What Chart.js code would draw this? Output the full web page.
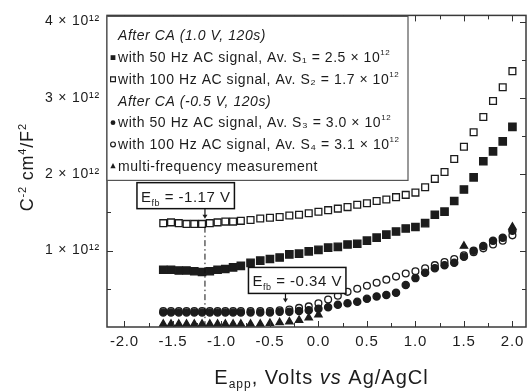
<!DOCTYPE html>
<html>
<head>
<meta charset="utf-8">
<script src="https://cdn.jsdelivr.net/npm/chart.js@4.4.0/dist/chart.umd.min.js"></script>
<style>
  html, body { margin: 0; padding: 0; background: #fff; }
</style>
</head>
<body>
<canvas id="chart" width="529" height="391"></canvas>
<script>
// applied potential, V vs Ag/AgCl
const potential = [-1.60, -1.52, -1.44, -1.36, -1.28, -1.20, -1.12, -1.04, -0.96, -0.88, -0.80,
  -0.70, -0.60, -0.50, -0.40, -0.30, -0.20, -0.10, 0.00, 0.10, 0.20, 0.30, 0.40, 0.50,
  0.60, 0.70, 0.80, 0.90, 1.00, 1.10, 1.20, 1.30, 1.40, 1.50, 1.60, 1.70, 1.80, 1.90, 2.00];

// C^-2 in units of 1e12 cm^4/F^2
// after CA at 1.0 V
const ca1_50Hz = [0.75, 0.75, 0.74, 0.74, 0.73, 0.72, 0.73, 0.75, 0.76, 0.78, 0.80,
  0.84, 0.87, 0.89, 0.91, 0.95, 0.96, 0.99, 1.01, 1.04, 1.05, 1.08, 1.09, 1.13,
  1.17, 1.21, 1.25, 1.29, 1.31, 1.36, 1.47, 1.51, 1.65, 1.80, 1.96, 2.17, 2.30, 2.43, 2.62];
const ca1_100Hz = [1.36, 1.37, 1.36, 1.35, 1.35, 1.35, 1.36, 1.37, 1.38, 1.38, 1.39,
  1.40, 1.42, 1.43, 1.44, 1.46, 1.47, 1.49, 1.51, 1.53, 1.55, 1.57, 1.60, 1.62,
  1.65, 1.67, 1.70, 1.73, 1.76, 1.83, 1.94, 2.03, 2.20, 2.36, 2.55, 2.75, 2.96, 3.14, 3.35];
// after CA at -0.5 V
const ca2_50Hz = [0.19, 0.19, 0.19, 0.19, 0.19, 0.19, 0.19, 0.19, 0.19, 0.19, 0.19,
  0.19, 0.19, 0.19, 0.20, 0.20, 0.21, 0.22, 0.24, 0.26, 0.29, 0.31, 0.33, 0.37,
  0.40, 0.42, 0.45, 0.55, 0.64, 0.71, 0.77, 0.81, 0.84, 0.92, 1.00, 1.06, 1.13, 1.17, 1.26];
const ca2_100Hz = [0.21, 0.21, 0.21, 0.21, 0.21, 0.21, 0.21, 0.21, 0.21, 0.21, 0.21,
  0.21, 0.21, 0.21, 0.22, 0.23, 0.25, 0.27, 0.31, 0.36, 0.41, 0.46, 0.50, 0.54,
  0.58, 0.62, 0.66, 0.70, 0.73, 0.77, 0.81, 0.85, 0.89, 0.94, 0.98, 1.03, 1.08, 1.13, 1.20];
const multiFreq = [0.04, 0.04, 0.04, 0.04, 0.04, 0.04, 0.04, 0.04, 0.04, 0.04, 0.04,
  0.04, 0.04, 0.05, 0.06, 0.07, 0.09, 0.12, 0.16, null, null, null, null, null,
  null, null, null, null, null, null, null, null, null, 1.06, null, null, null, null, 1.31];

const xTickValues = [-2.0, -1.5, -1.0, -0.5, 0.0, 0.5, 1.0, 1.5, 2.0];
const yTickValues = [1, 2, 3, 4];
const flatband = [-1.17, -0.34];

const legendRows = [
  { header: 'After CA (1.0 V, 120s)' },
  { marker: 'filledSquare', text: 'with 50 Hz AC signal, Av. S\u2081 = 2.5 \u00d7 10', sup: '12' },
  { marker: 'openSquare', text: 'with 100 Hz AC signal, Av. S\u2082 = 1.7 \u00d7 10', sup: '12' },
  { header: 'After CA (-0.5 V, 120s)' },
  { marker: 'filledCircle', text: 'with 50 Hz AC signal, Av. S\u2083 = 3.0 \u00d7 10', sup: '12' },
  { marker: 'openCircle', text: 'with 100 Hz AC signal, Av. S\u2084 = 3.1 \u00d7 10', sup: '12' },
  { marker: 'triangle', text: 'multi-frequency measurement' }
];

const FONT = "'Liberation Sans', Arial, sans-serif";
const INK = '#1c1c1c';

function points(ys) {
  return potential.map((x, i) => ({ x: x, y: ys[i] })).filter(p => p.y !== null);
}

// draws runs of text with different sizes / offsets, returns width
function richText(ctx, parts, x, y, measureOnly) {
  let cx = x;
  parts.forEach(p => {
    ctx.font = (p.italic ? 'italic ' : '') + p.size + 'px ' + FONT;
    if (!measureOnly) ctx.fillText(p.t, cx, y + (p.dy || 0));
    cx += ctx.measureText(p.t).width;
  });
  return cx - x;
}

function marker(ctx, kind, x, y, r) {
  ctx.save();
  ctx.strokeStyle = INK;
  ctx.fillStyle = INK;
  ctx.lineWidth = 1.2;
  ctx.beginPath();
  if (kind === 'filledSquare' || kind === 'openSquare') {
    ctx.rect(x - r, y - r, 2 * r, 2 * r);
  } else if (kind === 'triangle') {
    ctx.moveTo(x, y - r * 1.2);
    ctx.lineTo(x + r, y + r * 0.8);
    ctx.lineTo(x - r, y + r * 0.8);
    ctx.closePath();
  } else {
    ctx.arc(x, y, r, 0, Math.PI * 2);
  }
  if (kind.startsWith('open')) { ctx.fillStyle = '#fff'; ctx.fill(); ctx.stroke(); }
  else ctx.fill();
  ctx.restore();
}

const decorations = {
  id: 'decorations',
  beforeDraw(chart) {
    chart.ctx.letterSpacing = '0.8px';
  },
  afterDraw(chart) {
    const ctx = chart.ctx;
    const a = chart.chartArea;
    const xs = chart.scales.x, ys = chart.scales.y;
    ctx.save();

    // frame
    ctx.strokeStyle = '#3a3a3a';
    ctx.lineWidth = 1.5;
    ctx.strokeRect(a.left, a.top, a.right - a.left, a.bottom - a.top);

    // inward ticks on all four sides
    ctx.lineWidth = 1;
    ctx.strokeStyle = '#333';
    xTickValues.forEach((v, i) => {
      const list = [[v, 6]];
      if (i < xTickValues.length - 1) list.push([(v + xTickValues[i + 1]) / 2, 4]);
      list.forEach(([t, len]) => {
        const px = Math.round(xs.getPixelForValue(t)) + 0.5;
        ctx.beginPath();
        ctx.moveTo(px, a.bottom); ctx.lineTo(px, a.bottom - len);
        ctx.moveTo(px, a.top); ctx.lineTo(px, a.top + len);
        ctx.stroke();
      });
    });
    [0.5].concat(yTickValues.flatMap(v => [v, v + 0.5])).forEach(t => {
      if (t > ys.max) return;
      const py = Math.round(ys.getPixelForValue(t)) + 0.5;
      const len = Number.isInteger(t) ? 6 : 4;
      ctx.beginPath();
      ctx.moveTo(a.left, py); ctx.lineTo(a.left + len, py);
      ctx.moveTo(a.right, py); ctx.lineTo(a.right - len, py);
      ctx.stroke();
    });

    // flat band potential markers
    ctx.letterSpacing = '0.5px';
    ctx.fillStyle = INK;
    ctx.textBaseline = 'alphabetic';
    const boxes = [
      { v: flatband[0], left: -68, top: ys.getPixelForValue(1.89), arrow: 10, dashTo: a.bottom - 2 },
      { v: flatband[1], left: -37, top: ys.getPixelForValue(0.78), arrow: 9, dashTo: null }
    ];
    boxes.forEach(b => {
      const px = xs.getPixelForValue(b.v);
      const parts = [
        { t: 'E', size: 15 },
        { t: 'fb', size: 9, dy: 4 },
        { t: ' = ' + b.v.toFixed(2) + ' V', size: 15 }
      ];
      const w = richText(ctx, parts, 0, 0, true);
      const bx = px + b.left, bw = w + 8, bh = 26;
      ctx.fillStyle = '#fff';
      ctx.fillRect(bx, b.top, bw, bh);
      ctx.strokeStyle = '#111';
      ctx.lineWidth = 1.5;
      ctx.strokeRect(bx, b.top, bw, bh);
      ctx.fillStyle = INK;
      richText(ctx, parts, bx + 4, b.top + 19);
      // arrow
      const y0 = b.top + bh, y1 = y0 + b.arrow;
      ctx.lineWidth = 1.2;
      ctx.beginPath(); ctx.moveTo(px, y0); ctx.lineTo(px, y1 - 3); ctx.stroke();
      ctx.beginPath(); ctx.moveTo(px - 2.5, y1 - 4); ctx.lineTo(px + 2.5, y1 - 4); ctx.lineTo(px, y1); ctx.closePath(); ctx.fill();
      if (b.dashTo) {
        ctx.setLineDash([6, 3, 1.5, 3]);
        ctx.lineWidth = 1;
        ctx.beginPath(); ctx.moveTo(px, y1 + 8); ctx.lineTo(px, b.dashTo); ctx.stroke();
        ctx.setLineDash([]);
      }
    });

    // legend box
    ctx.letterSpacing = '0.55px';
    const lx = a.left, ly = a.top + 1, lw = 301, lh = 164;
    ctx.fillStyle = '#fff';
    ctx.fillRect(lx, ly, lw, lh);
    ctx.strokeStyle = '#555';
    ctx.lineWidth = 1.2;
    ctx.strokeRect(lx, ly, lw, lh);
    ctx.fillStyle = INK;
    legendRows.forEach((row, i) => {
      const y = ly + 24 + i * 21.7;
      if (row.header) {
        richText(ctx, [{ t: row.header, size: 14, italic: true }], lx + 11, y);
      } else {
        marker(ctx, row.marker, lx + 6, y - 4.5, row.marker === 'triangle' ? 2.6 : 2.4);
        ctx.fillStyle = INK;
        const parts = [{ t: row.text, size: 14 }];
        if (row.sup) parts.push({ t: row.sup, size: 8, dy: -7 });
        richText(ctx, parts, lx + 11, y);
      }
    });

    // axis titles
    ctx.letterSpacing = '1px';
    ctx.fillStyle = INK;
    const xt = [
      { t: 'E', size: 20 }, { t: 'app', size: 12, dy: 4 }, { t: ', Volts ', size: 20 },
      { t: 'vs', size: 20, italic: true }, { t: ' Ag/AgCl', size: 20 }
    ];
    const xw = richText(ctx, xt, 0, 0, true);
    richText(ctx, xt, (a.left + a.right) / 2 - xw / 2 + 5, 384);

    ctx.letterSpacing = '0.8px';
    const yt = [
      { t: 'C', size: 18 }, { t: '-2', size: 11, dy: -7 }, { t: ' cm', size: 18 },
      { t: '4', size: 11, dy: -7 }, { t: '/F', size: 18 }, { t: '2', size: 11, dy: -7 }
    ];
    const yw = richText(ctx, yt, 0, 0, true);
    ctx.translate(33, (a.top + a.bottom) / 2 - 4);
    ctx.rotate(-Math.PI / 2);
    richText(ctx, yt, -yw / 2, 0);
    ctx.restore();
  }
};

const base = { showLine: false, clip: false, borderColor: INK, backgroundColor: INK, borderWidth: 1.3 };

new Chart(document.getElementById('chart').getContext('2d'), {
  type: 'scatter',
  data: {
    datasets: [
      Object.assign({}, base, { label: 'multi-frequency', data: points(multiFreq), pointStyle: 'triangle', pointRadius: 4.2 }),
      Object.assign({}, base, { label: '-0.5 V 50 Hz', data: points(ca2_50Hz), pointStyle: 'circle', pointRadius: 3.6 }),
      Object.assign({}, base, { label: '-0.5 V 100 Hz', data: points(ca2_100Hz), pointStyle: 'circle', pointRadius: 3.4, backgroundColor: '#fff' }),
      Object.assign({}, base, { label: '1.0 V 50 Hz', data: points(ca1_50Hz), pointStyle: 'rect', pointRadius: 5.2 }),
      Object.assign({}, base, { label: '1.0 V 100 Hz', data: points(ca1_100Hz), pointStyle: 'rect', pointRadius: 4.8, backgroundColor: '#fff' })
    ]
  },
  options: {
    responsive: false,
    animation: false,
    events: [],
    layout: { autoPadding: false, padding: { left: 0, right: 3, top: 13, bottom: 0 } },
    plugins: { legend: { display: false }, tooltip: { enabled: false } },
    scales: {
      x: {
        type: 'linear', min: -2.18, max: 2.14,
        afterFit(s) { s.height = 64; },
        afterBuildTicks(s) { s.ticks = xTickValues.map(v => ({ value: v })); },
        grid: { display: false, drawTicks: false },
        border: { display: false },
        ticks: { padding: 6, color: INK, font: { family: FONT, size: 15 }, maxRotation: 0, autoSkip: false,
          callback: v => v.toFixed(1) }
      },
      y: {
        type: 'linear', min: 0, max: 4.08,
        afterFit(s) { s.width = 107; },
        afterBuildTicks(s) { s.ticks = yTickValues.map(v => ({ value: v })); },
        grid: { display: false, drawTicks: false },
        border: { display: false },
        ticks: { padding: 7, color: INK, font: { family: FONT, size: 14 },
          callback: v => v + ' \u00d7 10\u00b9\u00b2' }
      }
    }
  },
  plugins: [decorations]
});
</script>
</body>
</html>
